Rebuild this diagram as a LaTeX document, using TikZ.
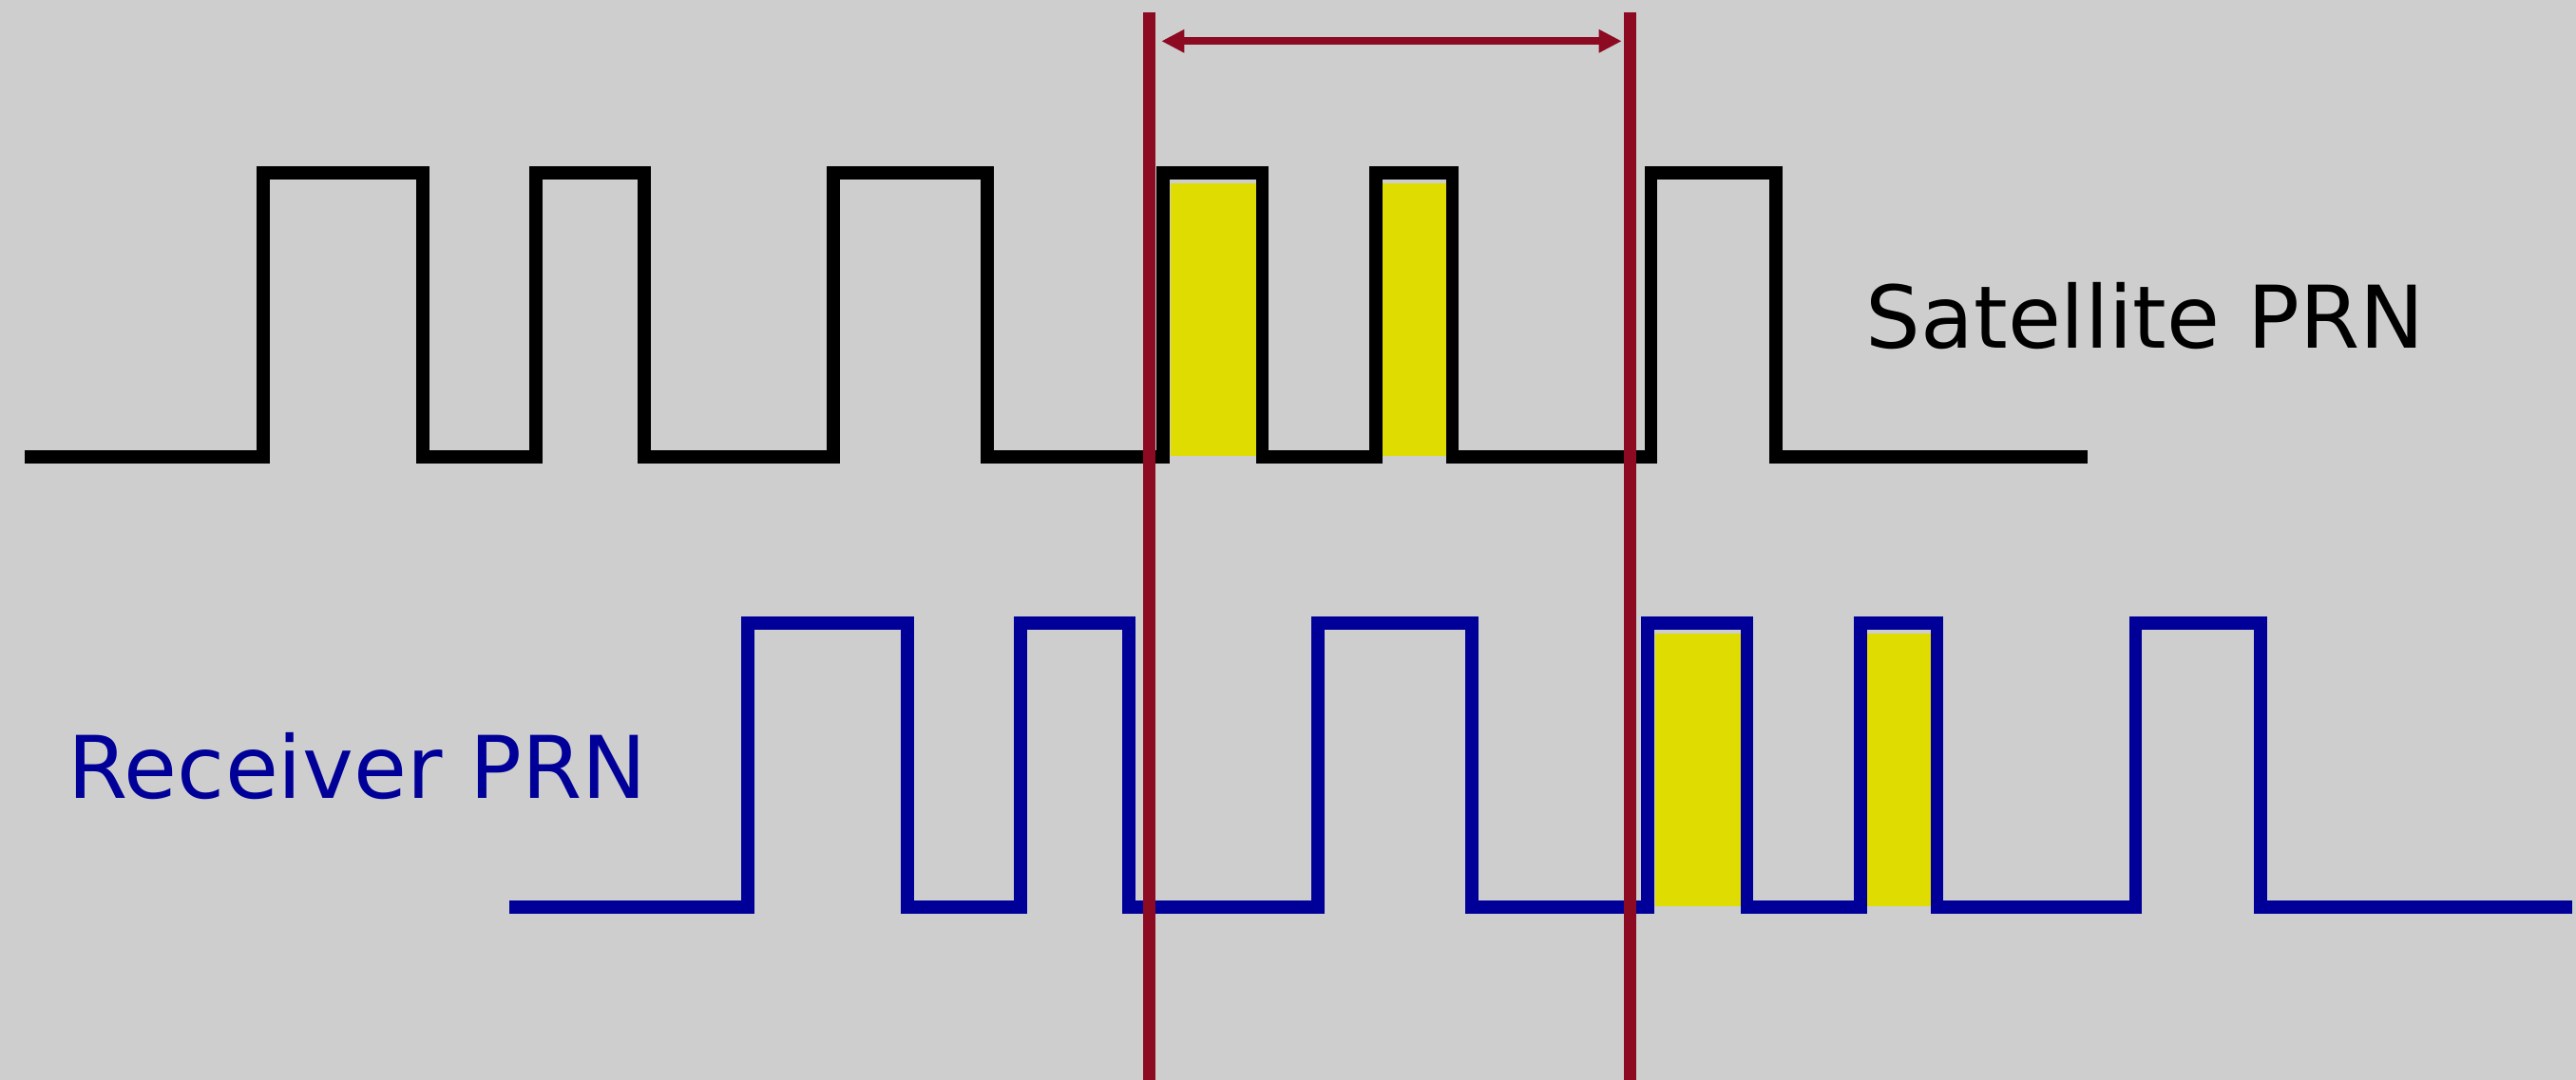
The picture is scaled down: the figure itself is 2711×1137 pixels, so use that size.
\documentclass[tikz,border=0pt]{standalone}
\usepackage{fontspec}
\setmainfont{DejaVu Sans}
\usepackage{xcolor}
\usepackage{tikz}
\usetikzlibrary{arrows.meta}
\definecolor{PRNgray}{HTML}{CECECE}
\definecolor{PRNblue}{HTML}{000099}
\definecolor{PRNred}{HTML}{8C0A22}
\definecolor{PRNyellow}{HTML}{DEDC00}

% one chip sequence: the matching chips in yellow, then the square wave
\newcommand{\prnsignal}[1]{%
  \fill[PRNyellow] (1231.5,193) rectangle (1322,480);
  \fill[PRNyellow] (1454.5,193) rectangle (1521.5,480);
  \draw[wave, #1] (26,481) -- (277,481) -- (277,182) -- (445,182) -- (445,481)
    -- (564,481) -- (564,182) -- (678,182) -- (678,481)
    -- (877,481) -- (877,182) -- (1039,182) -- (1039,481)
    -- (1224,481) -- (1224,182) -- (1328.5,182) -- (1328.5,481)
    -- (1448,481) -- (1448,182) -- (1528.5,182) -- (1528.5,481)
    -- (1737.5,481) -- (1737.5,182) -- (1869,182) -- (1869,481)
    -- (2196.5,481);
}

\begin{document}
\begin{tikzpicture}[x=0.1mm, y=-0.1mm,
    wave/.style={line width=1.35mm},
    marker/.style={line width=1.33mm, PRNred},
    span/.style={line width=0.8mm, PRNred, {Triangle[length=2.4mm, width=2.3mm]}-{Triangle[length=2.4mm, width=2.3mm]}},
    prnlabel/.style={inner sep=0pt, anchor=base west, font=\fontsize{25.9pt}{30pt}\selectfont}]
    \fill[PRNgray] (0,0) rectangle (2711,1137);
    \useasboundingbox (0,0) rectangle (2711,1137);

    \prnsignal{black}
    \node[prnlabel, black] (sat) at (1963,366.7) {Satellite PRN};

    \begin{scope}[shift={(510,474)}]
        \prnsignal{PRNblue}
    \end{scope}
    \node[prnlabel, PRNblue] (rcv) at (71,840.7) {Receiver PRN};

    % delay between the two sequences
    \coordinate (topA) at (1209.6,13.3);
    \coordinate (botA) at (1209.6,1137);
    \coordinate (topB) at (1715.7,13.3);
    \coordinate (botB) at (1715.7,1137);
    \draw[marker] (topA) -- (botA);
    \draw[marker] (topB) -- (botB);
    \coordinate (spanA) at (1209.6,43.3);
    \coordinate (spanB) at (1715.7,43.3);
    \draw[span, shorten <=1.27mm, shorten >=0.9mm] (spanA) -- (spanB);
\end{tikzpicture}
\end{document}
